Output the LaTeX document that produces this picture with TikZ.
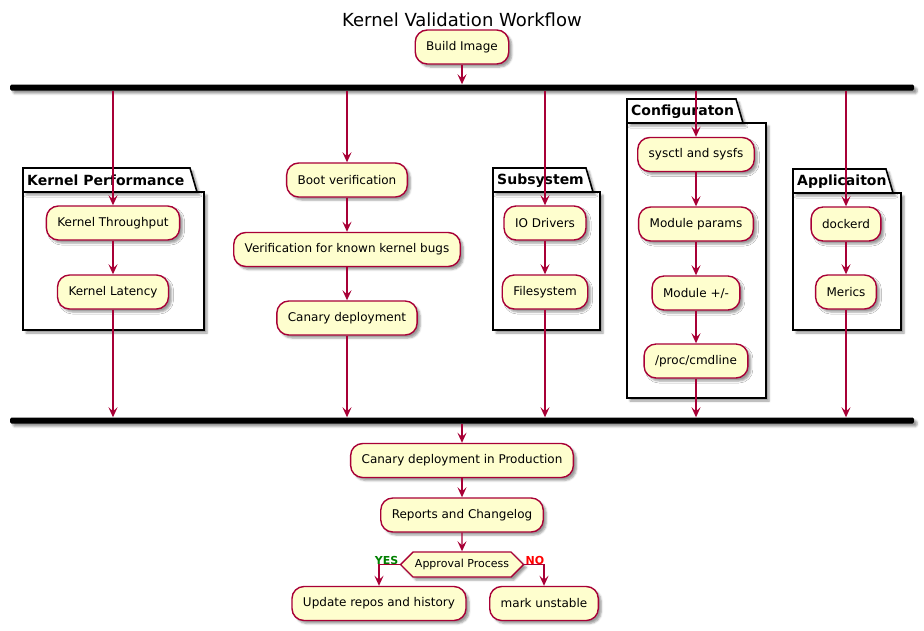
\documentclass[tikz,border=0pt]{standalone}
\usepackage{fontspec}
\setmainfont{DejaVu Sans}
\usetikzlibrary{arrows.meta,shapes.symbols,shadows.blur}
\definecolor{actfill}{HTML}{FEFECE}
\definecolor{brd}{HTML}{A80036}
\definecolor{yesg}{HTML}{008000}
\definecolor{nor}{HTML}{FF0000}
\begin{document}
\begin{tikzpicture}[x=1pt,y=-1pt,
  shd/.style={blur shadow={shadow xshift=3pt,shadow yshift=-3pt,shadow blur steps=4,shadow blur radius=2pt,shadow opacity=40}},
  act/.style={draw=brd, fill=actfill, line width=1.4pt, rounded corners=12pt, minimum height=34pt, inner xsep=11pt, inner ysep=0pt, font=\fontsize{12}{14}\selectfont, shd},
  flow/.style={draw=brd, line width=1.4pt, -{Stealth[length=10pt,width=9pt,inset=4pt]}},
  bar/.style={fill=black, minimum width=904pt, minimum height=6pt, inner sep=0pt, rounded corners=1.5pt, shd},
  pkg/.style={draw=black, line width=1.6pt, fill=white, shd},
  pkgtitle/.style={font=\bfseries\fontsize{14}{16}\selectfont, inner sep=0pt, anchor=west},
  decision/.style={shape=signal, signal to=west and east, draw=brd, fill=actfill, line width=1.4pt, minimum height=25pt, minimum width=123pt, inner sep=0pt, font=\fontsize{11}{13}\selectfont, shd},
  lbl/.style={font=\bfseries\fontsize{11}{13}\selectfont, inner sep=1pt}]
\useasboundingbox (0,0) rectangle (924,630);

% title
\node (title) at (462,20) {\fontsize{18}{20}\selectfont Kernel Validation Workflow};

% packages
\path[pkg] (23,192) rectangle (204,330);
\path[pkg] (23,192) -- (23,168) -- (190,168) -- (197,192) -- cycle;
\node[pkgtitle] (pt1) at (27,180.5) {Kernel Performance};

\path[pkg] (493,192) rectangle (600,330);
\path[pkg] (493,192) -- (493,168) -- (586,168) -- (593,192) -- cycle;
\node[pkgtitle] (pt2) at (497,180.5) {Subsystem};

\path[pkg] (627,123) rectangle (766,398);
\path[pkg] (627,123) -- (627,99) -- (736,99) -- (743,123) -- cycle;
\node[pkgtitle] (pt3) at (631,111.5) {Configuraton};

\path[pkg] (793,193) rectangle (901,330);
\path[pkg] (793,193) -- (793,169) -- (886,169) -- (893,193) -- cycle;
\node[pkgtitle] (pt4) at (797,181.5) {Applicaiton};

% nodes
\node[act] (bi) at (462,47) {Build Image};
\node[bar] (fork) at (462,87.5) {};

\node[act] (kt) at (113,223) {Kernel Throughput};
\node[act] (kl) at (113,292) {Kernel Latency};

\node[act] (bv) at (347,180) {Boot verification};
\node[act] (vk) at (347,249.5) {Verification for known kernel bugs};
\node[act] (cd) at (347,318) {Canary deployment};

\node[act] (io) at (545,223) {IO Drivers};
\node[act] (fs) at (545,292) {Filesystem};

\node[act] (sy) at (696,154.5) {sysctl and sysfs};
\node[act] (mp) at (696,224) {Module params};
\node[act] (mpm) at (696,293) {Module +/-};
\node[act] (pc) at (696,361) {/proc/cmdline};

\node[act] (dk) at (846,224) {dockerd};
\node[act] (mr) at (846,292) {Merics};

\node[bar] (join) at (462,420.5) {};

\node[act] (cdp) at (462,460.5) {Canary deployment in Production};
\node[act] (rc) at (462,515) {Reports and Changelog};
\node[decision] (ap) at (462,564.5) {Approval Process};
\node[act] (ur) at (379,603.5) {Update repos and history};
\node[act] (mu) at (544,603.5) {mark unstable};

\coordinate (yl) at (379,564.5);
\coordinate (nr) at (544,564.5);

% connectors
\draw[flow] (bi) -- (fork.north -| bi);
\draw[flow] (fork.south -| kt) -- (kt);
\draw[flow] (fork.south -| bv) -- (bv);
\draw[flow] (fork.south -| io) -- (io);
\draw[flow] (fork.south -| sy) -- (sy);
\draw[flow] (fork.south -| dk) -- (dk);

\draw[flow] (kt) -- (kl);
\draw[flow] (bv) -- (vk);
\draw[flow] (vk) -- (cd);
\draw[flow] (io) -- (fs);
\draw[flow] (sy) -- (mp);
\draw[flow] (mp) -- (mpm);
\draw[flow] (mpm) -- (pc);
\draw[flow] (dk) -- (mr);

\draw[flow] (kl) -- (join.north -| kl);
\draw[flow] (cd) -- (join.north -| cd);
\draw[flow] (fs) -- (join.north -| fs);
\draw[flow] (pc) -- (join.north -| pc);
\draw[flow] (mr) -- (join.north -| mr);

\draw[flow] (join.south -| cdp) -- (cdp);
\draw[flow] (cdp) -- (rc);
\draw[flow] (rc) -- (ap);
\draw[flow] (ap.west) -- (yl) -- (ur);
\draw[flow] (ap.east) -- (nr) -- (mu);

\node[lbl, text=yesg, anchor=south east] (yes) at ([yshift=-1pt]ap.west) {YES};
\node[lbl, text=nor, anchor=south west] (no) at ([yshift=-1pt]ap.east) {NO};
\end{tikzpicture}
\end{document}
